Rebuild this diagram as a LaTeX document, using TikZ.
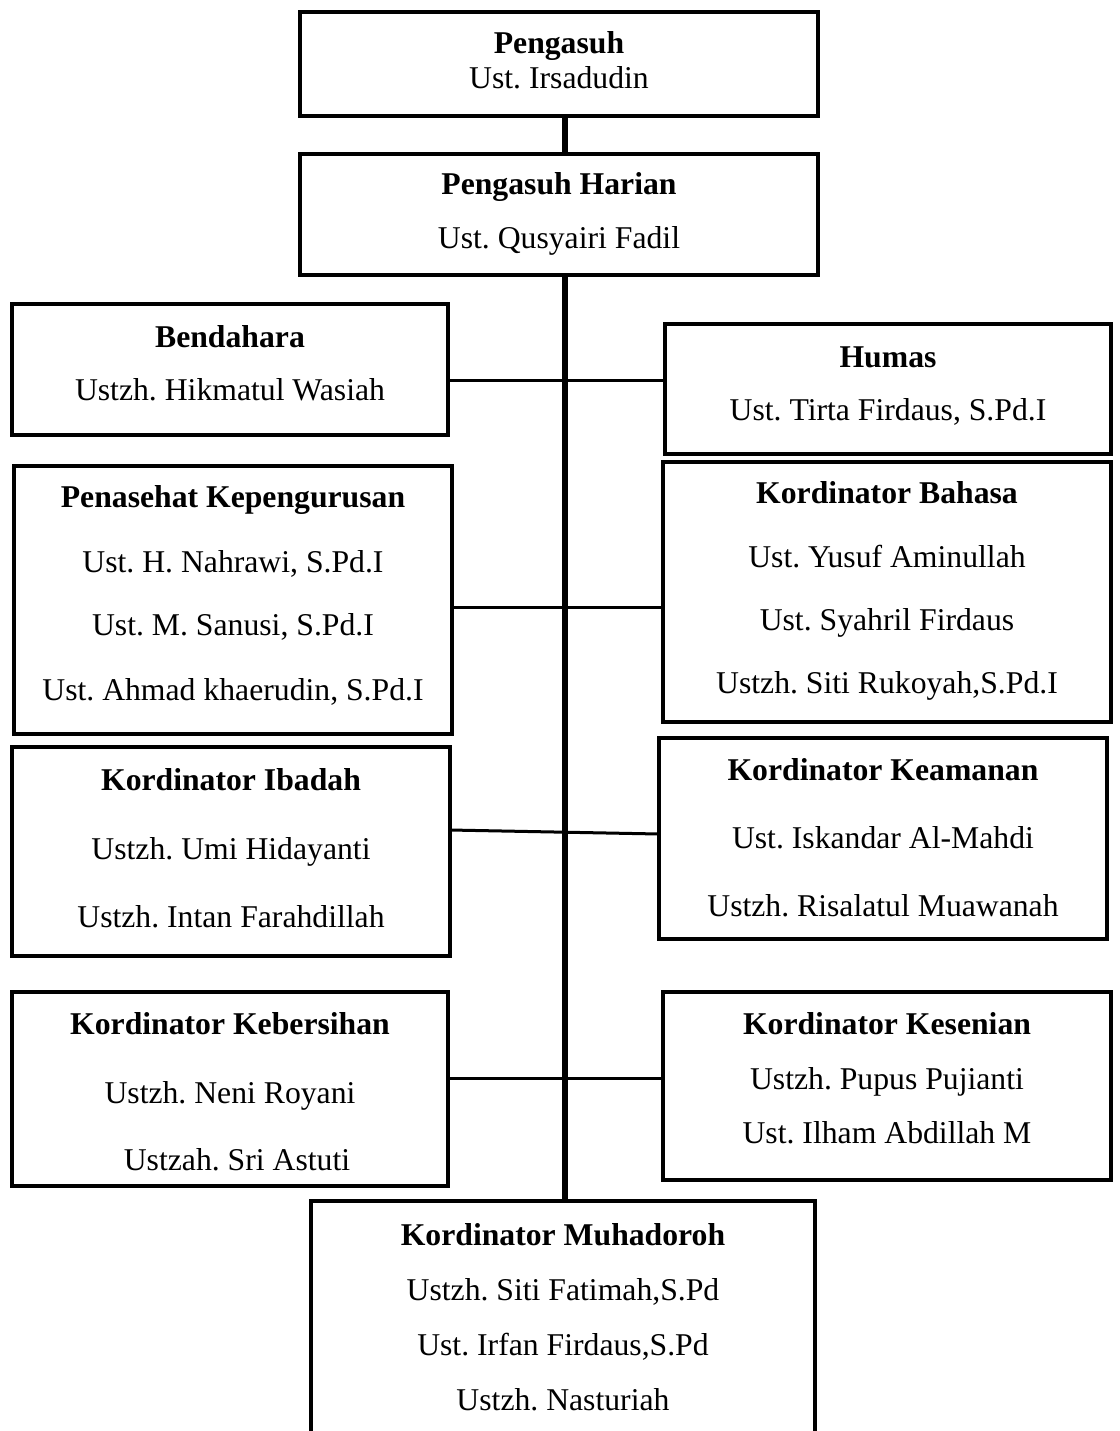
\documentclass[tikz,border=0pt]{standalone}
\usepackage{fontspec}
\setmainfont{Liberation Serif}
\frenchspacing
\usetikzlibrary{fit,backgrounds}
\begin{document}
\begin{tikzpicture}[x=0.5pt,y=-0.5pt,
  box/.style={draw, fill=white, line width=2.2pt, inner sep=0pt, outer sep=0pt, rectangle},
  txt/.style={anchor=base, inner sep=0pt, font=\fontsize{15.85}{19}\selectfont},
  hd/.style={anchor=base, inner sep=0pt, font=\fontsize{15.85}{19}\selectfont\bfseries},
  conn/.style={line width=1.5pt},
  spine/.style={line width=2.6pt}]
\clip (0,0) rectangle (1120,1431);
% boxes
\node[box, fit={(300,12) (818,116)}] (peng) {};
\node[box, fit={(300,154) (818,275)}] (harian) {};
\node[box, fit={(12,304) (448,435)}] (bend) {};
\node[box, fit={(665,324) (1111,454)}] (humas) {};
\node[box, fit={(14,466) (452,734)}] (pen) {};
\node[box, fit={(663,462) (1111,722)}] (bahasa) {};
\node[box, fit={(12,747) (450,956)}] (ibadah) {};
\node[box, fit={(659,738) (1107,939)}] (keamanan) {};
\node[box, fit={(12,992) (448,1186)}] (keber) {};
\node[box, fit={(663,992) (1111,1180)}] (kesenian) {};
\node[box, fit={(311,1201) (815,1470)}] (muhad) {};
% spine and connectors
\coordinate (sp) at (565,0);
\begin{scope}[on background layer]
\fill[white] (0,0) rectangle (1120,1431);
\draw[spine] (peng.south -| sp) -- (muhad.north -| sp);
\draw[conn] (bend.east |- 0,380) -- (humas.west |- 0,380);
\draw[conn] (pen.east |- 0,607) -- (bahasa.west |- 0,607);
\draw[conn] (ibadah.east |- 0,830) -- (keamanan.west |- 0,834);
\draw[conn] (keber.east |- 0,1078) -- (kesenian.west |- 0,1078);
\end{scope}
% texts
\node[hd]  (t1a) at (559,53) {Pengasuh};
\node[txt] (t1b) at (559,88) {Ust. Irsadudin};
\node[hd]  (t2a) at (559,194) {Pengasuh Harian};
\node[txt] (t2b) at (559,248) {Ust. Qusyairi Fadil};
\node[hd]  (t3a) at (230,347) {Bendahara};
\node[txt] (t3b) at (230,400) {Ustzh. Hikmatul Wasiah};
\node[hd]  (t4a) at (888,367) {Humas};
\node[txt] (t4b) at (888,420) {Ust. Tirta Firdaus, S.Pd.I};
\node[hd]  (t5a) at (233,507) {Penasehat Kepengurusan};
\node[txt] (t5b) at (233,572) {Ust. H. Nahrawi, S.Pd.I};
\node[txt] (t5c) at (233,635) {Ust. M. Sanusi, S.Pd.I};
\node[txt] (t5d) at (233,700) {Ust. Ahmad khaerudin, S.Pd.I};
\node[hd]  (t6a) at (887,503) {Kordinator Bahasa};
\node[txt] (t6b) at (887,567) {Ust. Yusuf Aminullah};
\node[txt] (t6c) at (887,630) {Ust. Syahril Firdaus};
\node[txt] (t6d) at (887,693) {Ustzh. Siti Rukoyah,S.Pd.I};
\node[hd]  (t7a) at (231,790) {Kordinator Ibadah};
\node[txt] (t7b) at (231,859) {Ustzh. Umi Hidayanti};
\node[txt] (t7c) at (231,927) {Ustzh. Intan Farahdillah};
\node[hd]  (t8a) at (883,780) {Kordinator Keamanan};
\node[txt] (t8b) at (883,848) {Ust. Iskandar Al-Mahdi};
\node[txt] (t8c) at (883,916) {Ustzh. Risalatul Muawanah};
\node[hd]  (t9a) at (230,1034) {Kordinator Kebersihan};
\node[txt] (t9b) at (230,1103) {Ustzh. Neni Royani};
\node[txt] (t9c) at (237,1170) {Ustzah. Sri Astuti};
\node[hd]  (t10a) at (887,1034) {Kordinator Kesenian};
\node[txt] (t10b) at (887,1089) {Ustzh. Pupus Pujianti};
\node[txt] (t10c) at (887,1143) {Ust. Ilham Abdillah M};
\node[hd]  (t11a) at (563,1245) {Kordinator Muhadoroh};
\node[txt] (t11b) at (563,1300) {Ustzh. Siti Fatimah,S.Pd};
\node[txt] (t11c) at (563,1355) {Ust. Irfan Firdaus,S.Pd};
\node[txt] (t11d) at (563,1410) {Ustzh. Nasturiah};
\end{tikzpicture}
\end{document}
